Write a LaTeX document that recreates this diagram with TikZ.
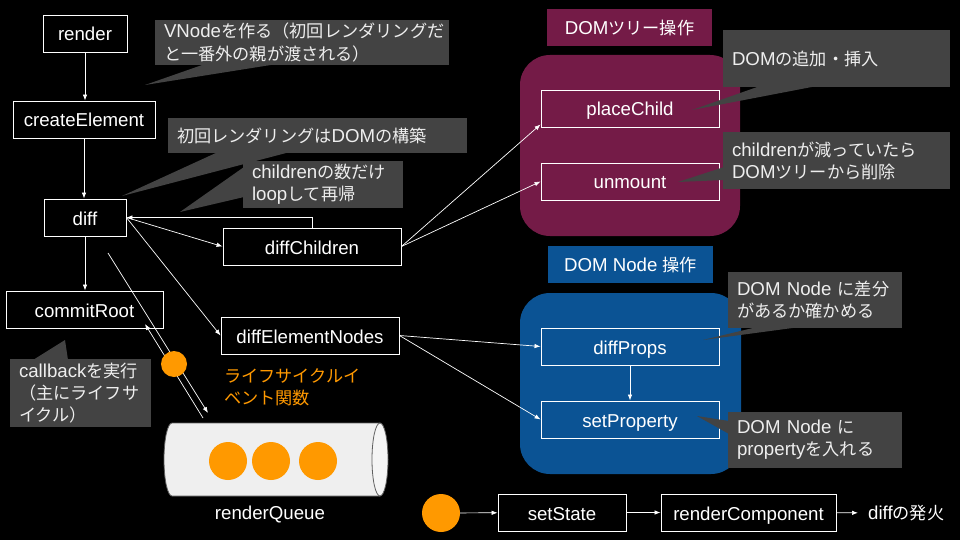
\documentclass[tikz,border=0pt]{standalone}
\usepackage{fontspec}
\setmainfont{Liberation Sans}
\newfontfamily\jp[Scale=0.92]{Noto Sans CJK JP}
\usetikzlibrary{arrows.meta}
\definecolor{callgray}{HTML}{434343}
\definecolor{treepurple}{HTML}{741B47}
\definecolor{nodeblue}{HTML}{0B5394}
\definecolor{orng}{HTML}{FF9900}
\definecolor{qfill}{HTML}{EFEFEF}
\definecolor{qcap}{HTML}{F5F5F5}
\definecolor{qline}{HTML}{5F5F5F}
\definecolor{txt}{HTML}{EEEEEE}
\newcommand{\fs}{\fontsize{18.67pt}{22pt}\selectfont}
\begin{document}
\begin{tikzpicture}[x=1pt,y=-1pt,
  box/.style={draw=white, line width=0.9pt, text=white, font=\fs, minimum height=37pt, inner sep=0pt, text height=17.5pt, text depth=2.5pt},
  callout/.style={fill=callgray, text=txt, font=\fs, align=left, inner xsep=9pt, inner ysep=0pt},
  arr/.style={draw=white, line width=0.7pt, -{Latex[length=6pt,width=4.5pt]}},
  titlebox/.style={text=white, font=\fs, minimum width=165pt, minimum height=37pt, inner sep=0pt, text height=17pt, text depth=3pt},
  region/.style={rounded corners=30pt},
  ptr/.style={fill=callgray},
  dot/.style={circle, fill=orng, inner sep=0pt},
  qshape/.style={draw=qline, line width=0.8pt}]
\useasboundingbox (0,0) rectangle (960,540);
\fill[black] (0,0) rectangle (960,540);

% regions
\fill[treepurple, region] (520,55) rectangle (740,236);
\node[titlebox, fill=treepurple] (ttree) at (629.5,27.5) {DOM{\jp ツリー操作}};
\fill[nodeblue, region] (520,293) rectangle (741,474);
\node[titlebox, fill=nodeblue] (tnode) at (630.5,264.5) {DOM Node {\jp 操作}};

% boxes
\node[box, minimum width=84pt] (render) at (85,33.5) {render};
\node[box, minimum width=142pt] (create) at (84,119.5) {createElement};
\node[box, minimum width=82pt] (diff) at (85,217.5) {diff};
\node[box, minimum width=157pt] (commit) at (84.5,309.5) {commitRoot};
\node[box, minimum width=178pt] (dchild) at (312,246.5) {diffChildren};
\node[box, minimum width=178pt] (delem) at (310,335.5) {diffElementNodes};
\node[box, minimum width=178pt] (place) at (630,108.5) {placeChild};
\node[box, minimum width=178pt] (unmount) at (630,181.5) {unmount};
\node[box, minimum width=178pt] (dprops) at (630,346.5) {diffProps};
\node[box, minimum width=178pt] (setprop) at (630,419.5) {setProperty};
\node[dot, minimum size=38pt] (start) at (441,513) {};
\node[box, minimum width=128pt] (setstate) at (562,512.5) {setState};
\node[box, minimum width=175pt] (rcomp) at (748.5,512.5) {renderComponent};
\node[text=white, font=\fs, anchor=west, inner xsep=10pt, inner ysep=0pt] (fire) at (858,513) {diff{\jp の発火}};

% connectors
\draw[arr] (render.south) -- (render.south |- create.north);
\draw[arr] (create.south) -- (create.south |- diff.north);
\draw[arr] (diff.south) -- (diff.south |- commit.north);
\draw[arr] (diff.east) -- (dchild.west);
\draw[arr] (dchild.north) |- (diff.east);
\draw[arr] (diff.east) -- (delem.west);
\draw[arr] (dchild.east) -- ([yshift=3pt]place.south west);
\draw[arr] (dchild.east) -- (unmount.west);
\draw[arr] (delem.east) -- (dprops.west);
\draw[arr] (delem.east) -- (setprop.west);
\draw[arr] (dprops) -- (setprop);
\draw[arr] (start) -- (setstate);
\draw[arr] (setstate) -- (rcomp);
\draw[arr] (rcomp) -- (fire);

% queue
\coordinate (qa) at (108,253);
\coordinate (qb) at (208,413);
\coordinate (qc) at (203,418);
\coordinate (qd) at (145,324);
\draw[arr] (qa) -- (qb);
\draw[arr] (qc) -- (qd);
\node[dot, minimum size=26pt] (life) at (174,364) {};
\node[text=orng, font=\fs, anchor=west, align=left, inner sep=0pt] (lifetxt) at (224,387) {{\jp ライフサイクルイ}\\{\jp ベント関数}};
\filldraw[fill=qfill, qshape] (380,423) -- (172,423) arc[start angle=90,end angle=270,x radius=8pt,y radius=36.5pt] -- (380,496) -- cycle;
\filldraw[fill=qcap, qshape] (380,459.5) ellipse[x radius=8pt, y radius=36.5pt];
\node[dot, minimum size=38pt] (q1) at (228,461) {};
\node[dot, minimum size=38pt] (q2) at (271,461) {};
\node[dot, minimum size=38pt] (q3) at (318,461) {};
\node[text=white, font=\fs] (qlabel) at (270,514) {renderQueue};

% callouts
\fill[ptr] (145,85) -- (205,64) -- (277,64) -- cycle;
\node[callout, text width=276pt, minimum height=45pt, font=\fontsize{18.67pt}{23pt}\selectfont] (c1) at (302,42.5) {\raisebox{0pt}[0pt][0pt]{}VNode{\jp を作る（初回レンダリングだ}\\{\jp と一番外の親が渡される）}};
\fill[ptr] (122,196) -- (218,152) -- (290,152) -- cycle;
\node[callout, text width=281pt, minimum height=35pt] (c2) at (317.5,135.5) {{\jp 初回レンダリングは}DOM{\jp の構築}};
\fill[ptr] (180,212) -- (244,167) -- (244,197) -- cycle;
\node[callout, text width=142pt, minimum height=47pt] (c3) at (323,184.5) {children{\jp の数だけ}\\loop{\jp して再帰}};
\fill[ptr] (65,340) -- (33,360) -- (68,360) -- cycle;
\node[callout, text width=123pt, minimum height=68pt] (c4) at (80.5,393) {callback{\jp を実行}\\{\jp （主にライフサ}\\{\jp イクル）}};
\fill[ptr] (692,110) -- (760,86) -- (817,86) -- cycle;
\node[callout, text width=209pt, minimum height=57pt] (c5) at (836.5,58.5) {DOM{\jp の追加・挿入}};
\fill[ptr] (678,182) -- (724,167) -- (724,180) -- cycle;
\node[callout, text width=209pt, minimum height=57pt] (c6) at (836.5,160.5) {children{\jp が減っていたら}\\DOM{\jp ツリーから削除}};
\fill[ptr] (703,340) -- (757,327) -- (800,327) -- cycle;
\node[callout, text width=156pt, minimum height=56pt] (c7) at (815,300) {DOM~Node~{\jp に差分}\\{\jp があるか確かめる}};
\fill[ptr] (697,416) -- (729,421) -- (729,434) -- cycle;
\node[callout, text width=156pt, minimum height=56pt] (c8) at (815,440) {DOM~Node~{\jp に}\\property{\jp を入れる}};
\end{tikzpicture}
\end{document}
